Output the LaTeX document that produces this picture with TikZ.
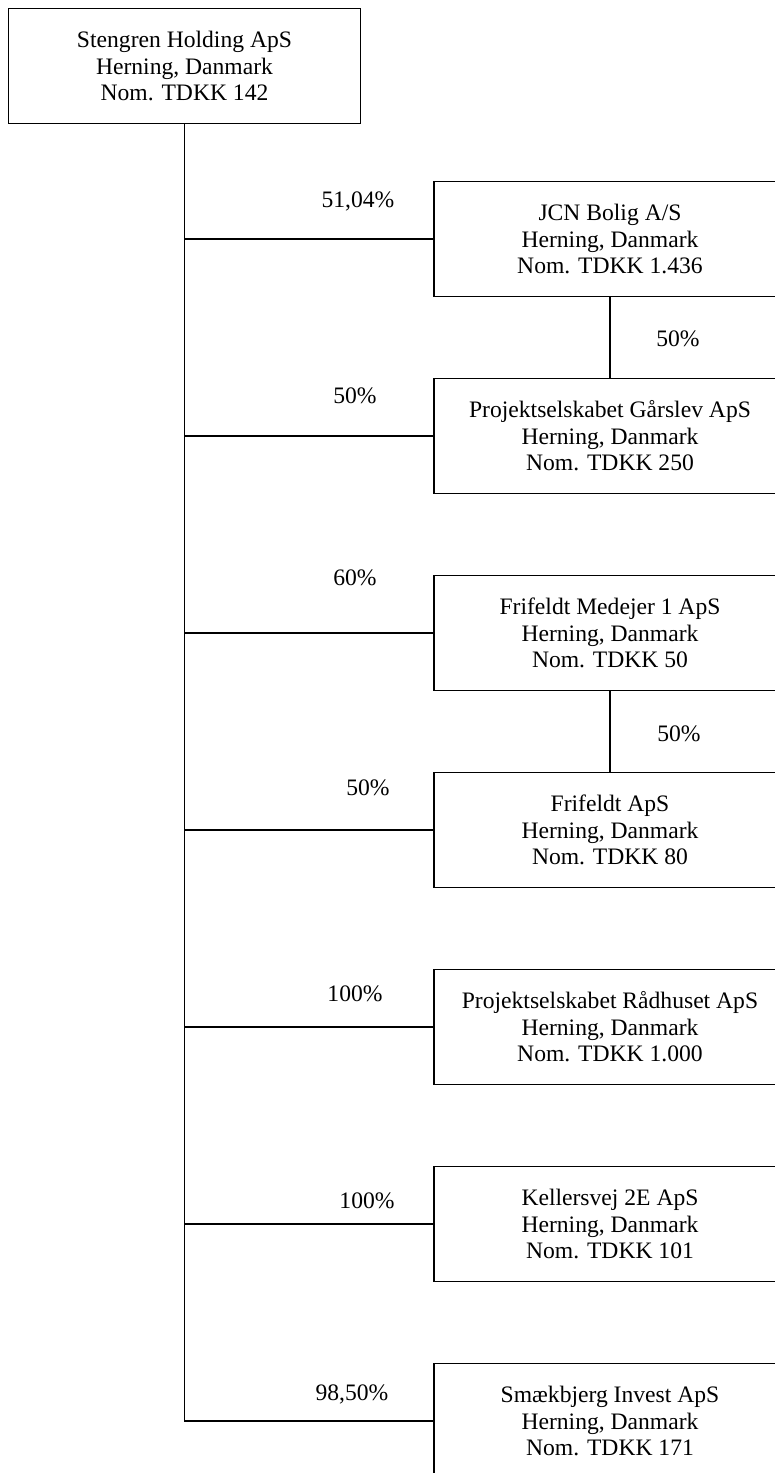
\documentclass[tikz,border=0pt]{standalone}
\usepackage{fontspec}
\setmainfont{Liberation Serif}
\usepackage{tikz}

\begin{document}
\begin{tikzpicture}[
				x=0.5pt, y=-0.5pt,
				line width=0.75pt,
				firm/.style = {draw, rectangle, align=center, minimum width=176pt, minimum height=57.5pt, inner sep=2pt, font=\fontsize{11.8}{13.3}\selectfont},
				share/.style = {anchor=base, inner sep=0pt, font=\fontsize{11.8}{13.3}\selectfont}
				]
				
				\clip (0,0) rectangle (775,1473);
				
				\node[firm] (holding) at (184.5,66) {Stengren Holding ApS\\Herning, Danmark\\Nom. TDKK 142};
				\node[firm] (jcn) at (610,239) {JCN Bolig A/S\\Herning, Danmark\\Nom. TDKK 1.436};
				\node[firm] (gaarslev) at (610,436) {Projektselskabet Gårslev ApS\\Herning, Danmark\\Nom. TDKK 250};
				\node[firm] (medejer) at (610,633) {Frifeldt Medejer 1 ApS\\Herning, Danmark\\Nom. TDKK 50};
				\node[firm] (frifeldt) at (610,830) {Frifeldt ApS\\Herning, Danmark\\Nom. TDKK 80};
				\node[firm] (raadhus) at (610,1027) {Projektselskabet Rådhuset ApS\\Herning, Danmark\\Nom. TDKK 1.000};
				\node[firm] (keller) at (610,1224) {Kellersvej 2E ApS\\Herning, Danmark\\Nom. TDKK 101};
				\node[firm] (smaek) at (610,1421) {Smækbjerg Invest ApS\\Herning, Danmark\\Nom. TDKK 171};
				
				\draw (holding.south) -- (holding.south |- smaek.west) -- (smaek.west);
				\foreach \f in {jcn, gaarslev, medejer, frifeldt, raadhus, keller}
					\draw (holding.south |- \f.west) -- (\f.west);
				\draw (jcn) -- (gaarslev);
				\draw (medejer) -- (frifeldt);
				
				\node[share] (pjcn) at (358,207) {51,04\%};
				\node[share] (pjcngaa) at (678,346) {50\%};
				\node[share] (pgaa) at (355,403) {50\%};
				\node[share] (pmed) at (355,585) {60\%};
				\node[share] (pmedfri) at (679,741) {50\%};
				\node[share] (pfri) at (368,795) {50\%};
				\node[share] (praad) at (355,1001) {100\%};
				\node[share] (pkel) at (367,1208) {100\%};
				\node[share] (psmae) at (352,1400) {98,50\%};
			\end{tikzpicture}
\end{document}
